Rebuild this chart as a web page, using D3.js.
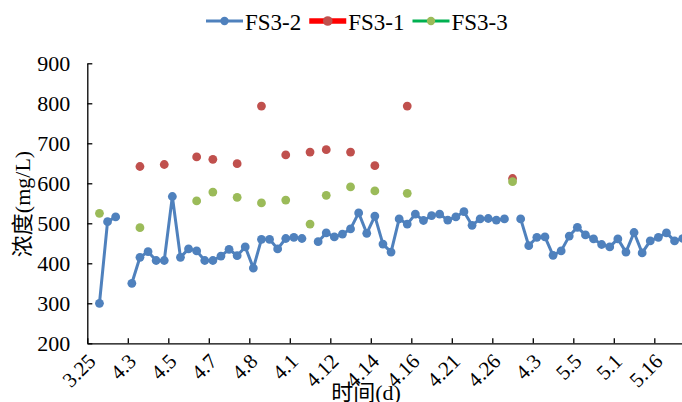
<!DOCTYPE html>
<html>
<head>
<meta charset="utf-8">
<script src="https://cdn.jsdelivr.net/npm/d3@7"></script>
<style>
  body { margin: 0; background: #fff; }
</style>
</head>
<body>
<div id="chart"></div>
<script>
// tick labels shown every 5th sampling day
var tickLabels = ["3.25", "4.3", "4.5", "4.7", "4.8", "4.1", "4.12", "4.14", "4.16", "4.21", "4.26", "4.3", "5.5", "5.1", "5.16"];

// FS3-2: one value per sampling day (null = no sample)
var fs32 = [null, 300, 504, 516, null, 350, 415, 429, 407, 407,
            567, 415, 436, 431, 407, 407, 418, 435, 419, 441,
            388, 460, 460, 436, 462, 465, 462, null, 454, 476,
            466, 473, 486, 526, 475, 518, 448, 428, 511, 498,
            523, 507, 519, 523, 508, 516, 529, 495, 511, 512,
            508, 511, null, 511, 444, 465, 466, 420, 431, 468,
            490, 471, 461, 447, 441, 461, 428, 477, 426, 456,
            465, 476, 456, 462];

// FS3-1 and FS3-3 were sampled on fewer days
var fs31Days = [6, 9, 13, 15, 18, 21, 24, 27, 29, 32, 35, 39, 52];
var fs31 = [642, 647, 666, 660, 649, 793, 671, 678, 684, 678, 644, 793, 612];
var fs33Days = [1, 6, 13, 15, 18, 21, 24, 27, 29, 32, 35, 39, 52];
var fs33 = [525, 489, 556, 578, 565, 551, 558, 498, 570, 591, 581, 575, 604];

var seriesNames = ["FS3-2", "FS3-1", "FS3-3"];
var lineColors = ["#4F81BD", "#FF0000", "#00B050"];
var markColors = ["#4F81BD", "#C0504D", "#9BBB59"];

var W = 682, H = 402;
var plotLeft = 87.3, step = 8.1, plotTop = 63.3, plotBottom = 343.3;
var n = fs32.length;
var fontFam = "'Liberation Serif', 'Noto Sans CJK SC'";

var svg = d3.select("#chart").append("svg")
    .attr("width", W)
    .attr("height", H)
    .style("display", "block");

var x = d3.scaleBand()
    .domain(d3.range(n))
    .range([plotLeft, plotLeft + n * step]);
var xb = d3.scaleLinear().domain([0, n]).range(x.range());
var y = d3.scaleLinear().domain([200, 900]).range([plotBottom, plotTop]);

function cx(i) { return x(i) + x.bandwidth() / 2; }

// axes
var xAxis = svg.append("g")
    .attr("transform", "translate(0," + plotBottom + ")")
    .call(d3.axisBottom(xb)
      .tickValues(d3.range(0, tickLabels.length * 5, 5))
      .tickSizeInner(-5).tickSizeOuter(0)
      .tickFormat(function(d, i) { return tickLabels[i]; }));
xAxis.selectAll("text")
    .attr("x", 0).attr("y", 0).attr("dy", "0.35em")
    .attr("text-anchor", "end")
    .attr("transform", "translate(4,14) rotate(-45)")
    .style("font-size", "21px");

var yAxis = svg.append("g")
    .attr("transform", "translate(" + plotLeft + ",0)")
    .call(d3.axisLeft(y)
      .tickValues(d3.range(200, 901, 100))
      .tickSizeInner(-5).tickSizeOuter(0).tickPadding(17));
yAxis.selectAll("text").style("font-size", "22px");

xAxis.attr("font-family", null).attr("font-size", null);
yAxis.attr("font-family", null).attr("font-size", null);
svg.selectAll(".domain, .tick line")
    .attr("stroke", "#000")
    .attr("stroke-width", 1.3);
svg.selectAll(".tick text").attr("fill", "#000");

// FS3-2 line
var line = d3.line()
    .defined(function(d) { return d != null; })
    .x(function(d, i) { return cx(i); })
    .y(function(d) { return y(d); });

svg.append("path")
    .datum(fs32)
    .attr("fill", "none")
    .attr("stroke", lineColors[0])
    .attr("stroke-width", 3)
    .attr("stroke-linejoin", "round")
    .attr("d", line);

var pts32 = fs32.map(function(v, i) { return {i: i, v: v}; })
    .filter(function(d) { return d.v != null; });
svg.append("g").selectAll("circle")
    .data(pts32).enter().append("circle")
    .attr("cx", function(d) { return cx(d.i); })
    .attr("cy", function(d) { return y(d.v); })
    .attr("r", 4.4)
    .attr("fill", markColors[0]);

// FS3-1 and FS3-3 as markers only
[[fs31Days, fs31, 1], [fs33Days, fs33, 2]].forEach(function(s) {
  svg.append("g").selectAll("circle")
    .data(s[1]).enter().append("circle")
    .attr("cx", function(d, k) { return cx(s[0][k]); })
    .attr("cy", function(d) { return y(d); })
    .attr("r", 4.4)
    .attr("fill", markColors[s[2]]);
});

// legend
var lg = svg.append("g").attr("transform", "translate(206,21)");
var lx = 0;
seriesNames.forEach(function(name, k) {
  var item = lg.append("g").attr("transform", "translate(" + lx + ",0)");
  item.append("line")
    .attr("x1", 0).attr("x2", 37)
    .attr("stroke", lineColors[k])
    .attr("stroke-width", k === 1 ? 5.5 : 3);
  item.append("circle")
    .attr("cx", 18.5).attr("r", k === 1 ? 4.8 : 4.2)
    .attr("fill", markColors[k]);
  var t = item.append("text")
    .attr("x", 39).attr("y", 9)
    .style("font-family", fontFam)
    .style("font-size", "23px")
    .text(name);
  lx += 39 + t.node().getComputedTextLength() + 8;
});

// axis titles
svg.append("text")
    .attr("transform", "translate(30,204) rotate(-90)")
    .attr("text-anchor", "middle")
    .style("font-size", "22px")
    .text("浓度(mg/L)");

svg.append("text")
    .attr("x", 366).attr("y", 400)
    .attr("text-anchor", "middle")
    .style("font-size", "22px")
    .text("时间(d)");

svg.selectAll("text").style("font-family", fontFam);
</script>
</body>
</html>
